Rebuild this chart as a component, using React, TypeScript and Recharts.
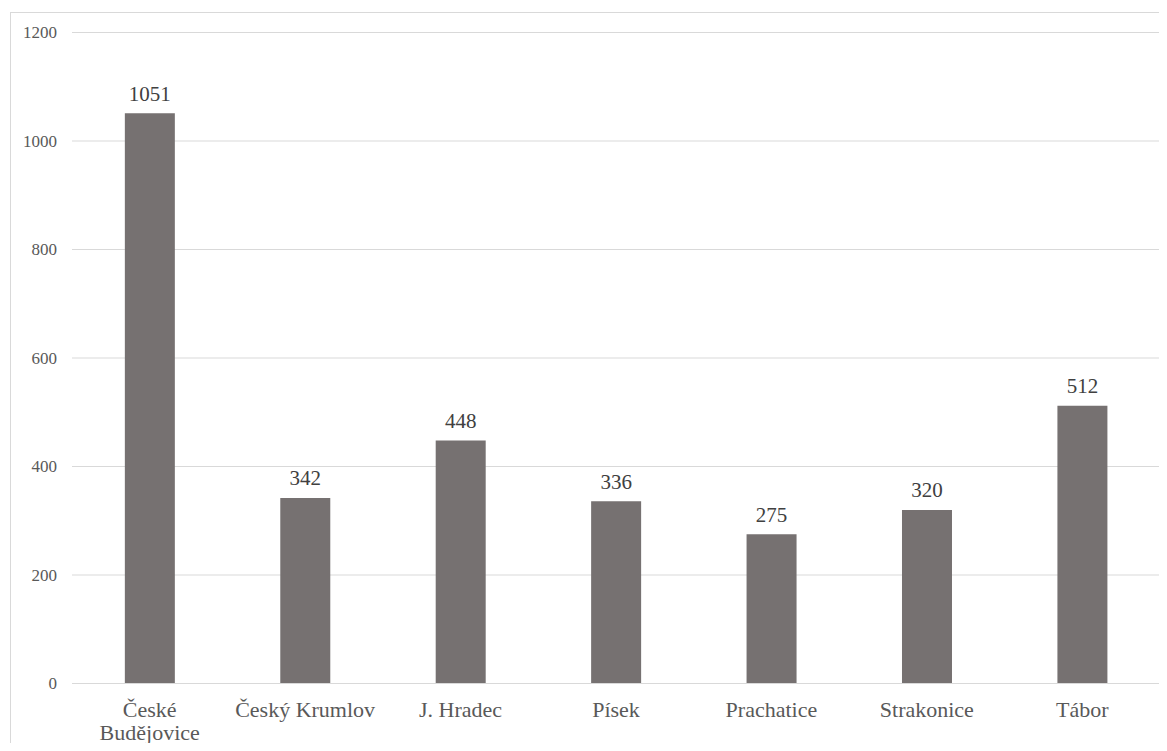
import { BarChart, Bar, XAxis, YAxis, CartesianGrid, LabelList } from "recharts";

const districts = [
  "České Budějovice",
  "Český Krumlov",
  "J. Hradec",
  "Písek",
  "Prachatice",
  "Strakonice",
  "Tábor",
];
const counts = [1051, 342, 448, 336, 275, 320, 512];
const yTicks = [0, 200, 400, 600, 800, 1000, 1200];

const rows = districts.map((name, i) => ({ name, value: counts[i] }));

const FONT = "Liberation Serif";
const TEXT = "#595959";

// long names break onto two lines at the spaces
const splitLabel = (label: string) =>
  label.length > 14 ? label.split(" ") : [label];

const CategoryTick = ({
  x,
  y,
  payload,
}: {
  x?: number;
  y?: number;
  payload?: { value: string };
}) => {
  if (x === undefined || y === undefined || !payload) return null;
  const lines = splitLabel(payload.value);
  return (
    <text
      x={x}
      y={y}
      textAnchor="middle"
      fontFamily={FONT}
      fontSize={22}
      fill={TEXT}
    >
      {lines.map((line, i) => (
        <tspan key={i} x={x} dy={i === 0 ? 33 : 23.5}>
          {line}
        </tspan>
      ))}
    </text>
  );
};

const ValueLabel = ({
  x,
  y,
  width,
  value,
}: {
  x?: number;
  y?: number;
  width?: number;
  value?: number;
}) => {
  if (x === undefined || y === undefined || width === undefined) return null;
  return (
    <text
      x={x + width / 2}
      y={y - 12.5}
      textAnchor="middle"
      fontFamily={FONT}
      fontSize={21}
      fill="#404040"
    >
      {value}
    </text>
  );
};

const ValueTick = ({
  x,
  y,
  payload,
}: {
  x?: number;
  y?: number;
  payload?: { value: number };
}) => {
  if (x === undefined || y === undefined || !payload) return null;
  return (
    <text
      x={x}
      y={y}
      dy={5.5}
      textAnchor="end"
      fontFamily={FONT}
      fontSize={17}
      fill={TEXT}
    >
      {payload.value}
    </text>
  );
};

export default function App() {
  return (
    <div
      style={{
        position: "relative",
        width: 1167,
        height: 751,
        margin: -8,
        overflow: "hidden",
        background: "#fff",
      }}
    >
      <div
        style={{
          position: "absolute",
          left: 10,
          top: 12,
          width: 1170,
          height: 760,
          border: "1px solid #d9d9d9",
        }}
      />
      <BarChart
        width={1167}
        height={751}
        data={rows}
        margin={{ top: 32.5, right: 7, bottom: 7.5, left: 0 }}
        barCategoryGap="34%"
        style={{ position: "absolute", left: 0, top: 0 }}
      >
        <CartesianGrid vertical={false} stroke="#d9d9d9" strokeWidth={1} />
        <XAxis
          dataKey="name"
          interval={0}
          height={60}
          axisLine={{ stroke: "#d9d9d9" }}
          tickLine={false}
          tickSize={0}
          tickMargin={0}
          tick={<CategoryTick />}
        />
        <YAxis
          width={72}
          domain={[0, 1200]}
          ticks={yTicks}
          axisLine={false}
          tickLine={false}
          tickSize={0}
          tickMargin={15}
          tick={<ValueTick />}
        />
        <Bar dataKey="value" fill="#767171" isAnimationActive={false}>
          <LabelList dataKey="value" content={<ValueLabel />} />
        </Bar>
      </BarChart>
    </div>
  );
}
